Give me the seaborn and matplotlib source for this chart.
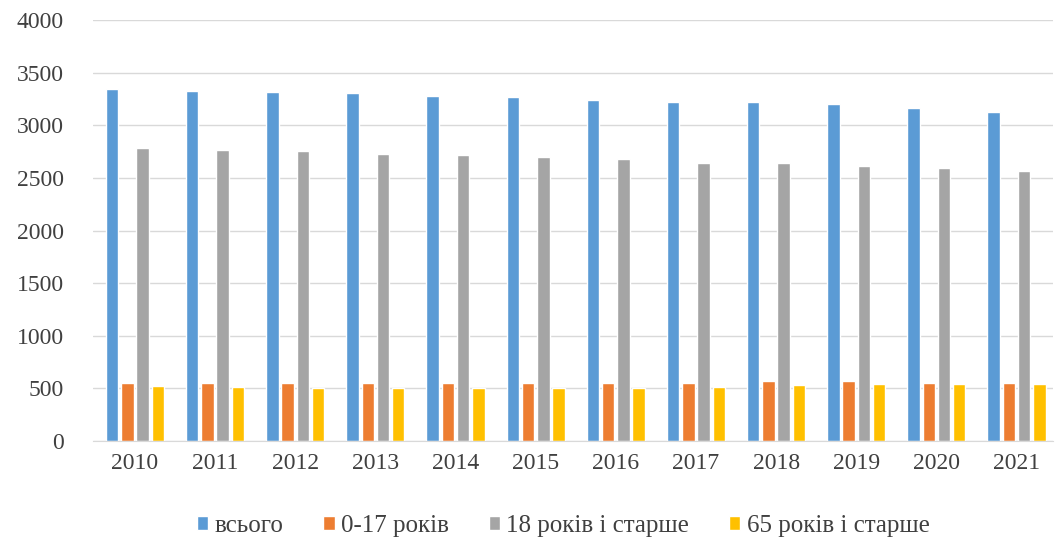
import pandas as pd
import matplotlib.pyplot as plt
import seaborn as sns

years = ["2010", "2011", "2012", "2013", "2014", "2015",
         "2016", "2017", "2018", "2019", "2020", "2021"]
total = [3344, 3328, 3313, 3303, 3278, 3265, 3243, 3218, 3218, 3199, 3161, 3129]
age_0_17 = [550, 550, 550, 550, 550, 555, 555, 555, 570, 570, 555, 555]
age_18_plus = [2781, 2765, 2758, 2730, 2720, 2698, 2682, 2638, 2645, 2613, 2597, 2565]
age_65_plus = [520, 510, 505, 505, 505, 505, 505, 515, 530, 540, 540, 540]

series = ["всього", "0-17 років", "18 років і старше", "65 років і старше"]
colors = ["#5B9BD5", "#ED7D31", "#A5A5A5", "#FFC000"]

df = pd.DataFrame({
    "year": years * 4,
    "group": [s for s in series for _ in years],
    "value": total + age_0_17 + age_18_plus + age_65_plus,
})

sns.set_style("white")
plt.rcParams["font.family"] = ["Liberation Serif", "DejaVu Serif"]

fig = plt.figure(figsize=(10.6, 5.45), dpi=100)
ax = fig.add_axes([0.088, 0.191, 0.905, 0.772])

sns.barplot(data=df, x="year", y="value", hue="group", palette=colors,
            width=0.76, gap=0.18, saturation=1, errorbar=None, ax=ax)

ax.set_ylim(0, 4000)
ax.set_yticks(range(0, 4001, 500))
ax.set_xlim(-0.52, 11.45)
ax.yaxis.grid(True, color="#d9d9d9", linewidth=1)
ax.set_axisbelow(True)
for side in ["left", "right", "top"]:
    ax.spines[side].set_visible(False)
ax.spines["bottom"].set_color("#d9d9d9")
ax.tick_params(axis="both", length=0, labelsize=17, colors="#404040")
ax.tick_params(axis="x", pad=9)
ax.tick_params(axis="y", pad=21)
ax.set_xlabel("")
ax.set_ylabel("")

handles, labels = ax.get_legend_handles_labels()
ax.legend(handles, labels, loc="upper center", bbox_to_anchor=(0.49, -0.122),
          ncol=4, frameon=False, fontsize=18, handlelength=0.45, handleheight=0.45,
          handletextpad=0.25, columnspacing=1.6, labelcolor="#404040")

fig.savefig("out.png", dpi=100)
